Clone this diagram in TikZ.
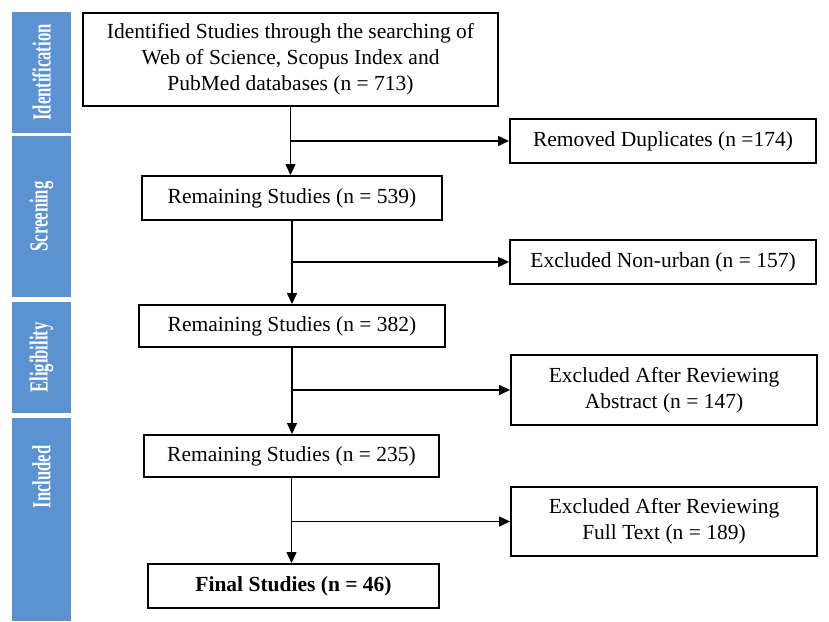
\documentclass[tikz,border=0pt]{standalone}
\usepackage{fontspec}
\setmainfont{Liberation Serif}
\usetikzlibrary{arrows.meta}
\definecolor{barblue}{RGB}{91,146,210}
\newcommand{\barlab}[1]{\scalebox{0.64}[1]{#1}}
\tikzset{
  box/.style={draw=black, line width=2pt, fill=white, align=center, inner sep=0pt,
              font=\fontsize{21.5}{26}\selectfont},
  conn/.style={line width=1.5pt, -{Triangle[length=11pt,width=10pt]}},
  bar/.style={fill=barblue, draw=none},
  barlabel/.style={text=white, rotate=90, font=\fontsize{26}{30}\selectfont\bfseries, inner sep=0pt}
}
\begin{document}
\begin{tikzpicture}[x=1pt,y=-1pt]
\useasboundingbox (0,0) rectangle (829,621);
% side bars
\fill[bar] (12,12) rectangle (71,133);
\fill[bar] (12,136) rectangle (71,297);
\fill[bar] (12,302) rectangle (71,413);
\fill[bar] (12,418) rectangle (71,621);
\node[barlabel] (lid) at (41.5,72.5) {\barlab{Identification}};
\node[barlabel] (lsc) at (41.5,216.5) {\barlab{Screening}};
\node[barlabel] (lel) at (41.5,357.5) {\barlab{Eligibility}};
\node[barlabel] (lin) at (41.5,477) {\barlab{Included}};
% main column
\node[box, minimum width=415pt, minimum height=93pt] (top) at (290.5,59.5)
  {Identified Studies through the searching of\\Web of Science, Scopus Index and\\PubMed databases (n = 713)};
\node[box, minimum width=300pt, minimum height=44pt] (r539) at (292,198) {Remaining Studies (n = 539)};
\node[box, minimum width=306pt, minimum height=42pt] (r382) at (292,326) {Remaining Studies (n = 382)};
\node[box, minimum width=295pt, minimum height=42pt] (r235) at (291.5,456) {Remaining Studies (n = 235)};
\node[box, minimum width=291pt, minimum height=44pt, font=\fontsize{21.5}{26}\selectfont\bfseries] (final) at (293.5,586) {Final Studies (n = 46)};
% side column
\node[box, minimum width=306pt, minimum height=44pt] (dup) at (663,141) {Removed Duplicates (n =174)};
\node[box, minimum width=306pt, minimum height=44pt] (nonurban) at (663,262) {Excluded Non-urban (n = 157)};
\node[box, minimum width=306pt, minimum height=70pt] (abstract) at (664,390) {Excluded After Reviewing\\Abstract (n = 147)};
\node[box, minimum width=306pt, minimum height=69pt] (fulltext) at (664,521.5) {Excluded After Reviewing\\Full Text (n = 189)};
% connectors
\draw[conn] (top.south) -- (top.south |- r539.north);
\draw[conn] (top.south |- dup.west) -- (dup.west);
\draw[conn] (r539.south) -- (r539.south |- r382.north);
\draw[conn] (r539.south |- nonurban.west) -- (nonurban.west);
\draw[conn] (r382.south) -- (r382.south |- r235.north);
\draw[conn] (r382.south |- abstract.west) -- (abstract.west);
\draw[conn] (r235.south) -- (r235.south |- final.north);
\draw[conn] (r235.south |- fulltext.west) -- (fulltext.west);
\end{tikzpicture}
\end{document}
